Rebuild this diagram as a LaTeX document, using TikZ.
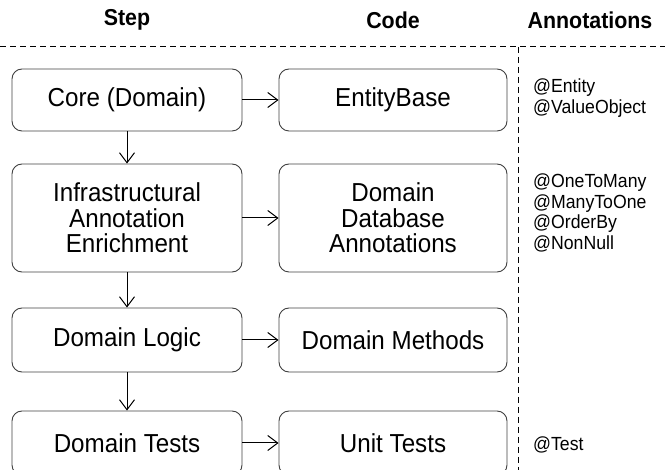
\documentclass[tikz,border=0pt]{standalone}
\usepackage{fontspec}
\setmainfont{Liberation Sans}
\newfontfamily\narrowsans[FakeStretch=0.93]{Liberation Sans}
\usetikzlibrary{arrows.meta}
\tikzset{
  stepbox/.style={draw=black!75, line width=0.9pt, rounded corners=10pt, inner sep=0pt,
    align=center, font=\narrowsans\fontsize{26}{25.5}\selectfont},
  flow/.style={draw=black, line width=1pt, -{Straight Barb[length=10pt,width=15pt,line width=1pt]}},
  header/.style={font=\narrowsans\fontsize{23}{26}\selectfont\bfseries},
  annot/.style={align=left, inner sep=0pt, anchor=north west, font=\narrowsans\fontsize{19}{20.5}\selectfont},
  sep/.style={draw=black, line width=1pt, dash pattern=on 6pt off 4pt}
}
\begin{document}
\begin{tikzpicture}[x=1pt, y=-1pt]
  \useasboundingbox (0,0) rectangle (665,470);

  % column headers
  \node[header] (hstep) at (127,20) {Step};
  \node[header] (hcode) at (393,20) {Code};
  \node[header] (hann)  at (590,20) {Annotations};

  % separators
  \coordinate (sl) at (0,47);
  \coordinate (sr) at (665,47);
  \coordinate (vt) at (518,47);
  \coordinate (vb) at (518,470);
  \draw[sep] (sl) -- (sr);
  \draw[sep] (vt) -- (vb);

  % steps
  \node[stepbox, minimum width=230pt, minimum height=62pt]  (core)  at (127,100) {Core (Domain)};
  \node[stepbox, minimum width=230pt, minimum height=108pt] (infra) at (127,218) {Infrastructural\\Annotation\\Enrichment};
  \node[stepbox, minimum width=230pt, minimum height=64pt]  (logic) at (127,340) {Domain Logic};
  \node[stepbox, minimum width=230pt, minimum height=64pt]  (tests) at (127,443) {Domain Tests};

  % code
  \node[stepbox, minimum width=228pt, minimum height=62pt]  (entity) at (393,100) {EntityBase};
  \node[stepbox, minimum width=228pt, minimum height=108pt] (dbann)  at (393,218) {Domain\\Database\\Annotations};
  \node[stepbox, minimum width=228pt, minimum height=64pt]  (meth)   at (393,340) {Domain Methods};
  \node[stepbox, minimum width=228pt, minimum height=64pt]  (unit)   at (393,443) {Unit Tests};

  % annotations
  \node[annot] (a1) at (533,79)  {@Entity\\@ValueObject};
  \node[annot] (a2) at (533,174) {@OneToMany\\@ManyToOne\\@OrderBy\\@NonNull};
  \node[annot] (a3) at (533,437) {@Test};

  % connectors
  \draw[flow] (core) -- (entity);
  \draw[flow] (infra) -- (dbann);
  \draw[flow] (logic) -- (meth);
  \draw[flow] (tests) -- (unit);
  \draw[flow] (core) -- (infra);
  \draw[flow] (infra) -- (logic);
  \draw[flow] (logic) -- (tests);
\end{tikzpicture}
\end{document}
